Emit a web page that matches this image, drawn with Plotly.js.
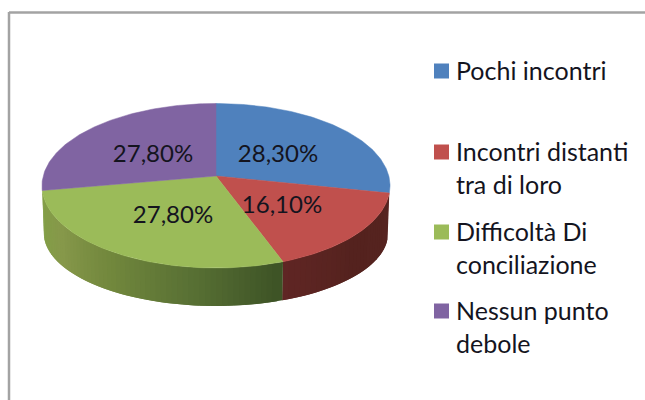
<!DOCTYPE html>
<html>
<head>
<meta charset="utf-8">
<script src="https://cdn.plot.ly/plotly-3.0.1.min.js"></script>
<style>html,body{margin:0;padding:0;background:#fff}</style>
</head>
<body>
<div id="plotArea" style="width:645px;height:400px"></div>
<script>
var categories = ["Pochi incontri", "Incontri distanti<br>tra di loro", "Difficoltà Di<br>conciliazione", "Nessun punto<br>debole"];
var values = [28.3, 16.1, 27.8, 27.8];
var colors = ["#4f81bd", "#c0504d", "#9bbb59", "#8064a2"];

// label spots, in page pixels
var labelX = [278, 282, 173, 153];
var labelY = [156, 207, 217, 156];
var legendY = [71, 152, 232, 311];

// Plotly has no 3d pie, so the tilted disc is worked out here from the values
var topPlane = {sx: 172.8, cy: 176, sy: 81.1};
var bottomPlane = {sx: 171, cy: 224.3, sy: 72};
var tilt = 0.1185;

function project(plane, deg) {
    var a = deg * Math.PI / 180;
    var d = 1 + tilt * Math.cos(a);
    return [216 + plane.sx * Math.sin(a) / d, plane.cy - plane.sy * Math.cos(a) / d];
}

function mix(stops, t) {
    var p = t * (stops.length - 1);
    var i = Math.min(Math.floor(p), stops.length - 2);
    var f = p - i;
    var c = [0, 1, 2].map(function (k) {
        return Math.round(stops[i][k] + (stops[i + 1][k] - stops[i][k]) * f);
    });
    return "rgb(" + c.join(",") + ")";
}

var total = values.reduce(function (a, b) { return a + b; }, 0);
var starts = [];
var sum = 0;
values.forEach(function (v) {
    starts.push(sum / total * 360);
    sum += v;
});
function sliceEnd(i) { return starts[i] + values[i] / total * 360; }

var data = [];

// side wall, strips overlap the next one so no seams show
function wall(from, to, stops, count) {
    var step = (to - from) / count;
    for (var n = count - 1; n >= 0; n--) {
        var a = from + step * n;
        var b = Math.min(a + step * 2, to);
        var p = [project(topPlane, a), project(topPlane, b), project(bottomPlane, b), project(bottomPlane, a)];
        var col = mix(stops, n / (count - 1));
        data.push({
            x: p.map(function (q) { return q[0]; }),
            y: p.map(function (q) { return q[1]; }),
            mode: "none", fill: "toself", fillcolor: col,
            hoverinfo: "skip", showlegend: false
        });
    }
}
wall(starts[1], sliceEnd(1), [[86, 36, 32], [84, 34, 30], [96, 38, 36]], 30);
wall(starts[2], sliceEnd(2), [[62, 84, 38], [88, 112, 52], [112, 134, 60], [134, 152, 74], [130, 160, 70]], 60);

// top face
values.forEach(function (v, i) {
    var xs = [216], ys = [topPlane.cy];
    for (var a = starts[i]; a < sliceEnd(i); a += 1) {
        var q = project(topPlane, a);
        xs.push(q[0]);
        ys.push(q[1]);
    }
    var e = project(topPlane, sliceEnd(i));
    xs.push(e[0], 216);
    ys.push(e[1], topPlane.cy);
    data.push({
        x: xs, y: ys, mode: "lines", fill: "toself", fillcolor: colors[i],
        line: {color: colors[i], width: 0.5},
        name: categories[i], hoverinfo: "name", showlegend: false
    });
});

// percentages
data.push({
    x: labelX, y: labelY, mode: "text",
    text: values.map(function (v) { return v.toFixed(2).replace(".", ",") + "%"; }),
    textposition: "middle center",
    textfont: {family: "Lato, sans-serif", size: 24, color: "#14141e"},
    hoverinfo: "skip", showlegend: false
});

// legend swatches and text
data.push({
    x: categories.map(function () { return 441.5; }), y: legendY,
    mode: "markers",
    marker: {symbol: "square", size: 15, color: colors},
    hoverinfo: "skip", showlegend: false
});
var legendLines = [], legendLineY = [];
categories.forEach(function (c, i) {
    c.split("<br>").forEach(function (part, j) {
        legendLines.push(part);
        legendLineY.push(legendY[i] + 3 + j * 32.5);
    });
});
data.push({
    x: legendLines.map(function () { return 456; }), y: legendLineY,
    mode: "text", text: legendLines, textposition: "middle right",
    textfont: {family: "Lato, sans-serif", size: 25, color: "#14141e"},
    hoverinfo: "skip", showlegend: false
});

var layout = {
    width: 645, height: 400,
    margin: {l: 0, r: 0, t: 0, b: 0},
    paper_bgcolor: "#ffffff", plot_bgcolor: "#ffffff",
    showlegend: false,
    xaxis: {range: [0, 645], visible: false, fixedrange: true},
    yaxis: {range: [400, 0], visible: false, fixedrange: true},
    shapes: [
        {type: "line", xref: "x", yref: "y", x0: 9, x1: 9, y0: 12, y1: 400, line: {color: "#a3a3a3", width: 2.5}},
        {type: "line", xref: "x", yref: "y", x0: 9, x1: 645, y0: 12.5, y1: 12.5, line: {color: "#a3a3a3", width: 2.5}}
    ]
};

Plotly.newPlot("plotArea", data, layout, {displayModeBar: false, staticPlot: true});
</script>
</body>
</html>
